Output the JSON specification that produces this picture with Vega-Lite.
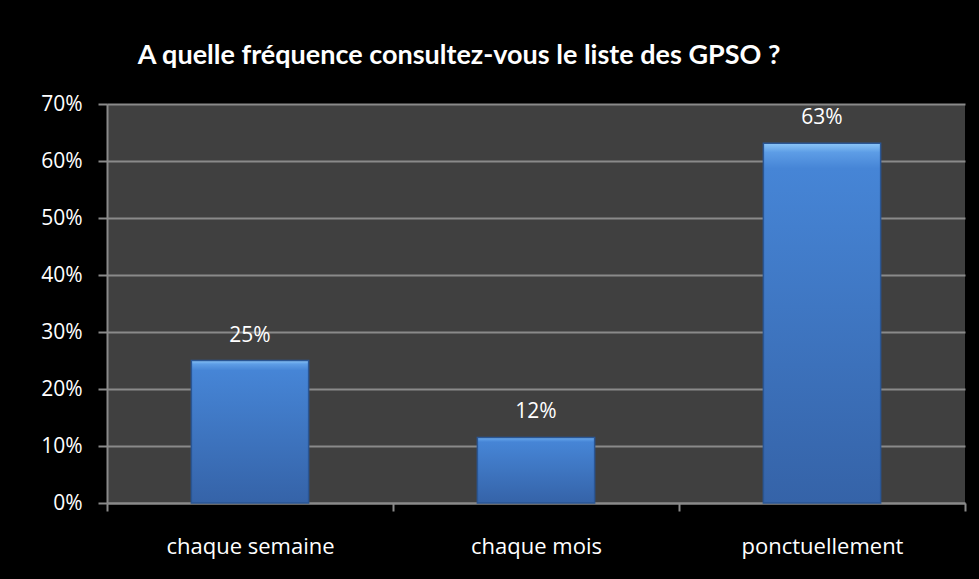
{
  "$schema": "https://vega.github.io/schema/vega-lite/v6.json",
  "width": 858,
  "height": 399,
  "autosize": {"type": "none"},
  "padding": {"left": 107, "top": 104, "right": 14, "bottom": 76},
  "background": "#000000",
  "config": {
    "view": {"fill": "#404040", "stroke": null},
    "font": "Lato"
  },
  "title": {
    "text": "A quelle fréquence consultez-vous le liste des GPSO ?",
    "color": "#ffffff",
    "font": "Lato",
    "fontSize": 27,
    "fontWeight": "bold",
    "anchor": "middle",
    "frame": "group",
    "dx": -77,
    "baseline": "alphabetic",
    "offset": 2
  },
  "data": {
    "values": [
      {"frequence": "chaque semaine", "part": 0.25, "etiquette": "25%"},
      {"frequence": "chaque mois", "part": 0.115, "etiquette": "12%"},
      {"frequence": "ponctuellement", "part": 0.631, "etiquette": "63%"}
    ]
  },
  "encoding": {
    "x": {
      "field": "frequence",
      "type": "nominal",
      "sort": null,
      "scale": {"paddingInner": 0, "paddingOuter": 0},
      "axis": {
        "title": null,
        "labelAngle": 0,
        "labelColor": "#ffffff",
        "labelFont": "Open Sans",
        "labelFontSize": 22,
        "labelPadding": 25,
        "tickBand": "extent",
        "tickColor": "#8a8a8a",
        "tickWidth": 2,
        "tickSize": 8,
        "domainColor": "#8a8a8a",
        "domainWidth": 2,
        "grid": false
      }
    },
    "y": {
      "field": "part",
      "type": "quantitative",
      "scale": {"domain": [0, 0.7], "nice": false},
      "axis": {
        "title": null,
        "values": [0, 0.1, 0.2, 0.3, 0.4, 0.5, 0.6, 0.7],
        "format": ".0%",
        "labelColor": "#ffffff",
        "labelFont": "Open Sans",
        "labelFontSize": 21,
        "labelPadding": 16,
        "tickColor": "#8a8a8a",
        "tickWidth": 2,
        "tickSize": 9,
        "domainColor": "#8a8a8a",
        "domainWidth": 2,
        "grid": true,
        "gridColor": "#8a8a8a",
        "gridWidth": 2
      }
    }
  },
  "layer": [
    {
      "mark": {
        "type": "bar",
        "width": {"band": 0.41},
        "stroke": "#2a5694",
        "strokeWidth": 1.5,
        "color": {
          "gradient": "linear",
          "x1": 0, "y1": 0, "x2": 0, "y2": 1,
          "stops": [
            {"offset": 0, "color": "#8cc6f8"},
            {"offset": 0.025, "color": "#5d9de6"},
            {"offset": 0.07, "color": "#4685d6"},
            {"offset": 1, "color": "#3563a8"}
          ]
        }
      }
    },
    {
      "mark": {
        "type": "text",
        "color": "#ffffff",
        "font": "Open Sans",
        "fontSize": 21,
        "baseline": "alphabetic",
        "dy": -19
      },
      "encoding": {"text": {"field": "etiquette"}}
    }
  ]
}
